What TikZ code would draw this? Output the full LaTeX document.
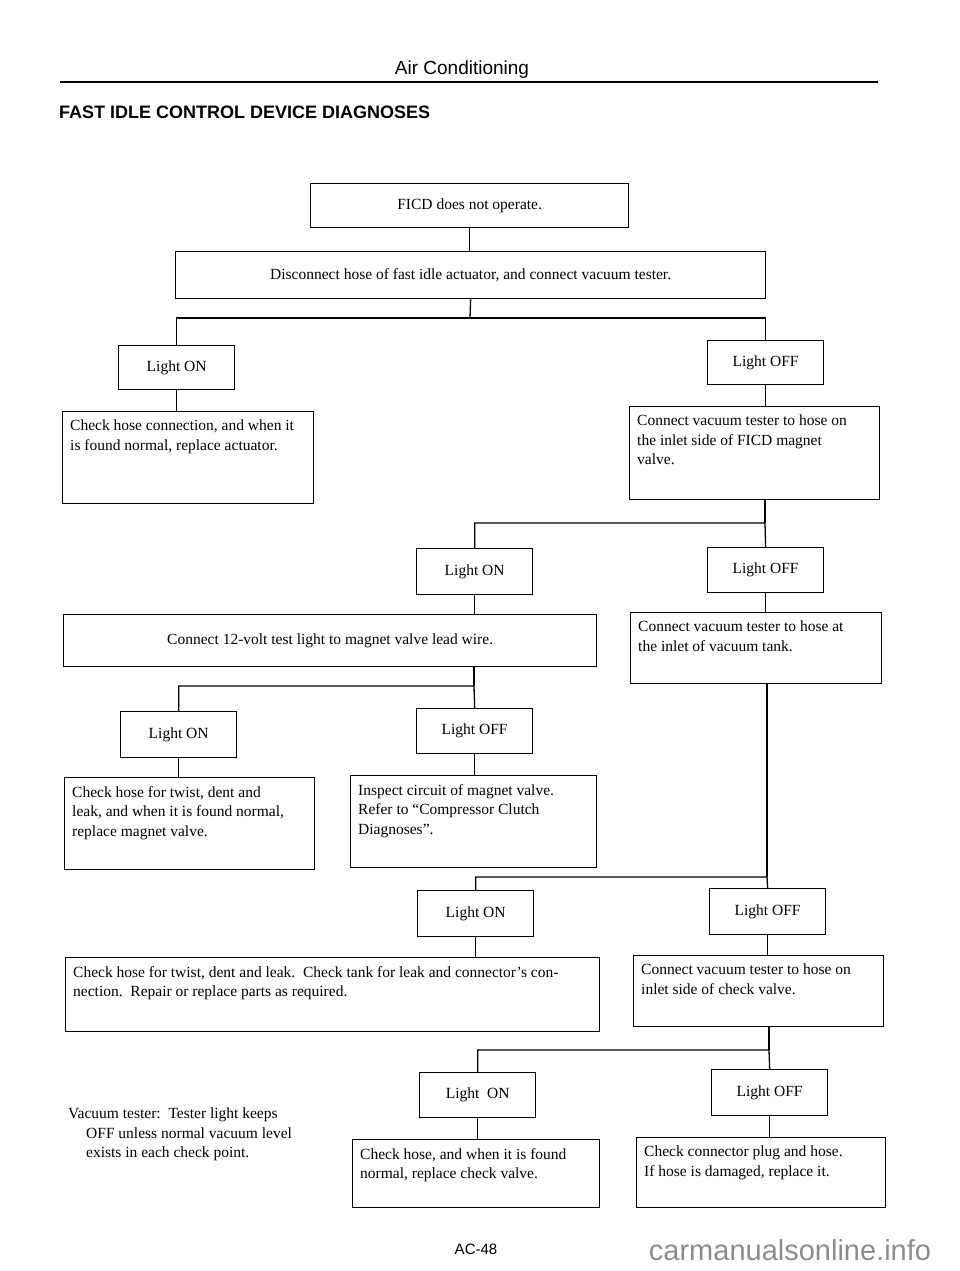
\documentclass[tikz,border=0pt]{standalone}
\usepackage{fontspec}
\setmainfont{Liberation Serif}
\newfontfamily\hsans{Liberation Sans}
\usepackage{graphicx}
\newcommand\bxfont{\fontsize{15.5}{19.5}\selectfont}
\tikzset{
  bx/.style={draw, line width=1.3pt, rectangle, inner sep=0pt, anchor=north west, font=\bxfont},
  lbl/.style={anchor=north west, inner sep=0pt, align=left, font=\bxfont, xshift=8pt, yshift=-9pt},
  cn/.style={line width=1.3pt},
}
\newcommand\cbox[6]{\node[bx, minimum width=#4pt, minimum height=#5pt] (#1) at (#2,#3) {#6};}
\newcommand\tbox[6]{\node[bx, minimum width=#4pt, minimum height=#5pt, label={[lbl]north west:{#6}}] (#1) at (#2,#3) {};}
\begin{document}
\begin{tikzpicture}[x=1pt,y=-1pt]
\useasboundingbox (0,0) rectangle (960,1271);
% header
\node[font=\hsans\fontsize{19}{22}\selectfont, inner sep=0pt] (hdr) at (462,70) {Air Conditioning};
\coordinate (rl) at (60,82);
\coordinate (rr) at (878,82);
\draw[line width=2.6pt] (rl) -- (rr);
\node[anchor=west, inner sep=0pt, font=\hsans\bfseries\fontsize{18}{20}\selectfont] (ttl) at (59,112) {FAST IDLE CONTROL DEVICE DIAGNOSES};

% boxes
\cbox{B1}{310}{183}{318}{44}{FICD does not operate.}
\cbox{B2}{175}{251}{590}{47}{Disconnect hose of fast idle actuator, and connect vacuum tester.}
\cbox{L1}{118}{345}{116}{44}{Light ON}
\tbox{C1}{62}{411}{251}{92}{Check hose connection, and when it\\is found normal, replace actuator.}
\cbox{R1}{707}{340}{116}{44}{Light OFF}
\tbox{C2}{629}{406}{250}{93}{Connect vacuum tester to hose on\\the inlet side of FICD magnet\\valve.}
\cbox{L2}{416}{548}{116}{46}{Light ON}
\cbox{R2}{707}{547}{116}{45}{Light OFF}
\cbox{C3}{63}{614}{533}{52}{Connect 12-volt test light to magnet valve lead wire.}
\tbox{C4}{630}{612}{251}{71}{Connect vacuum tester to hose at\\the inlet of vacuum tank.}
\cbox{L3}{120}{711}{116}{46}{Light ON}
\cbox{R3}{416}{708}{116}{45}{Light OFF}
\tbox{C5}{64}{777}{250}{92}{Check hose for twist, dent and\\leak, and when it is found normal,\\replace magnet valve.}
\tbox{C6}{350}{775}{246}{92}{Inspect circuit of magnet valve.\\Refer to “Compressor Clutch\\Diagnoses”.}
\cbox{L4}{417}{890}{116}{46}{Light ON}
\cbox{R4}{709}{888}{116}{46}{Light OFF}
\tbox{C7}{65}{957}{534}{74}{Check hose for twist, dent and leak.\ \ Check tank for leak and connector’s con-\\nection.\ \ Repair or replace parts as required.}
\tbox{C8}{633}{955}{250}{71}{Connect vacuum tester to hose on\\inlet side of check valve.}
\cbox{L5}{419}{1072}{116}{45}{Light\ \ ON}
\cbox{R5}{711}{1069}{116}{46}{Light OFF}
\tbox{C9}{352}{1139}{247}{68}{Check hose, and when it is found\\normal, replace check valve.}
\tbox{C10}{636}{1137}{249}{70}{Check connector plug and hose.\\If hose is damaged, replace it.}

% bus junctions
\coordinate (j1) at (470,318);
\coordinate (j2) at (765,523);
\coordinate (j3) at (474,686);
\coordinate (j4) at (767,877);
\coordinate (j5) at (769,1050);

% connectors
\draw[cn] (B1.south) -- (B1.south |- B2.north);
\draw[cn] (B2.south) -- (j1);
\draw[cn] (L1.north) |- (j1) -| (R1.north);
\draw[cn] (L1.south) -- (L1.south |- C1.north);
\draw[cn] (R1.south) -- (R1.south |- C2.north);
\draw[cn] (C2.south -| j2) -- (j2);
\draw[cn] (L2.north) |- (j2) -- (R2.north);
\draw[cn] (L2.south) -- (L2.south |- C3.north);
\draw[cn] (R2.south) -- (R2.south |- C4.north);
\draw[cn] (C3.south -| j3) -- (j3);
\draw[cn] (L3.north) |- (j3) -- (R3.north);
\draw[cn] (L3.south) -- (L3.south |- C5.north);
\draw[cn] (R3.south) -- (R3.south |- C6.north);
\draw[cn] (C4.south -| j4) -- (j4);
\draw[cn] (L4.north) |- (j4) -- (R4.north);
\draw[cn] (L4.south) -- (L4.south |- C7.north);
\draw[cn] (R4.south) -- (R4.south |- C8.north);
\draw[cn] (C8.south -| j5) -- (j5);
\draw[cn] (L5.north) |- (j5) -- (R5.north);
\draw[cn] (L5.south) -- (L5.south |- C9.north);
\draw[cn] (R5.south) -- (R5.south |- C10.north);

% note and footer
\node[anchor=north west, align=left, inner sep=0pt, font=\bxfont] (note) at (68,1108) {Vacuum tester:\ \ Tester light keeps\\\hspace*{18pt}OFF unless normal vacuum level\\\hspace*{18pt}exists in each check point.};
\node[font=\hsans\fontsize{15}{18}\selectfont, inner sep=0pt] (pg) at (476,1249) {AC-48};
\node[font=\hsans\fontsize{29}{32}\selectfont, text=black!45, inner sep=0pt] (wm) at (790,1250) {carmanualsonline.info};
\end{tikzpicture}
\end{document}
